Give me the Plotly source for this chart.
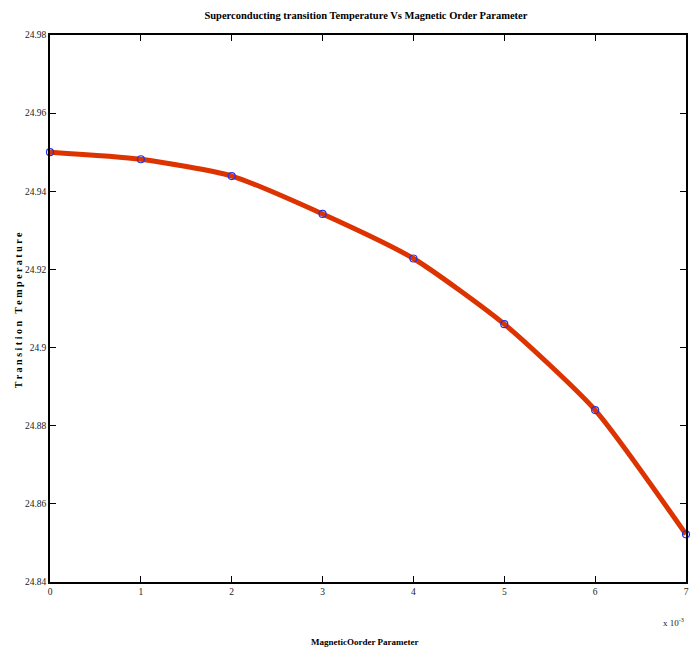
import plotly.graph_objects as go

order_param = [0.000, 0.001, 0.002, 0.003, 0.004, 0.005, 0.006, 0.007]
tc_values = [24.950, 24.9482, 24.9439, 24.9342, 24.9228, 24.9060, 24.8840, 24.8522]

x_tickvals = [0.000, 0.001, 0.002, 0.003, 0.004, 0.005, 0.006, 0.007]
x_ticktext = ["0", "1", "2", "3", "4", "5", "6", "7"]
y_tickvals = [24.84, 24.86, 24.88, 24.90, 24.92, 24.94, 24.96, 24.98]
y_ticktext = ["24.84", "24.86", "24.88", "24.9", "24.92", "24.94", "24.96", "24.98"]

font_family = "Liberation Serif"
FIG_W, FIG_H = 693, 653

fig = go.Figure()
fig.add_trace(go.Scatter(
    x=order_param, y=tc_values, mode="lines",
    line=dict(color="#dd3300", width=5, shape="spline", smoothing=0.6),
    showlegend=False, hoverinfo="skip", cliponaxis=False))
fig.add_trace(go.Scatter(
    x=order_param, y=tc_values, mode="markers",
    marker=dict(symbol="circle-open", size=7, color="#2233ee", line=dict(width=1.2, color="#2233ee")),
    showlegend=False, cliponaxis=False))

axis_common = dict(showgrid=False, zeroline=False, showline=True, linecolor="black", linewidth=1.5,
                   mirror="ticks", ticks="inside", ticklen=6, tickcolor="black", tickwidth=1,
                   automargin=False,
                   tickfont=dict(family=font_family, size=9.5, color="#222"))

fig.update_layout(
    width=FIG_W, height=FIG_H,
    paper_bgcolor="white", plot_bgcolor="white",
    margin=dict(l=50, r=7, t=35, b=71),
    title=dict(text="<b>Superconducting transition Temperature Vs Magnetic Order Parameter</b>",
               x=0.528, xanchor="center", xref="container",
               y=1 - 15.5 / FIG_H, yanchor="middle", yref="container",
               font=dict(family=font_family, size=10.5, color="black")),
    xaxis=dict(range=[0, 0.007], tickvals=x_tickvals, ticktext=x_ticktext, **axis_common),
    yaxis=dict(range=[24.84, 24.98], tickvals=y_tickvals, ticktext=y_ticktext, **axis_common),
    annotations=[
        dict(text="<b>MagneticOorder Parameter</b>", xref="paper", yref="paper", x=0.495, y=0,
             xanchor="center", yanchor="middle", yshift=-60, showarrow=False,
             font=dict(family=font_family, size=9, color="black")),
        dict(text="<b>T r a n s i t i o n   T e m p e r a t u r e</b>", xref="paper", yref="paper",
             x=0, y=0.497, xanchor="center", yanchor="middle", xshift=-32, textangle=-90, showarrow=False,
             font=dict(family=font_family, size=10, color="black")),
        dict(text="x 10<sup>-3</sup>", xref="paper", yref="paper", x=1.0, y=0,
             xanchor="right", yanchor="middle", yshift=-40, showarrow=False,
             font=dict(family=font_family, size=9, color="#222")),
    ],
)

fig.write_html(
    "out.html",
    config={"displayModeBar": False},
    post_script=("document.documentElement.style.margin='0';document.body.style.margin='0';"
                 "document.documentElement.style.overflow='hidden';document.body.style.overflow='hidden';"),
)
